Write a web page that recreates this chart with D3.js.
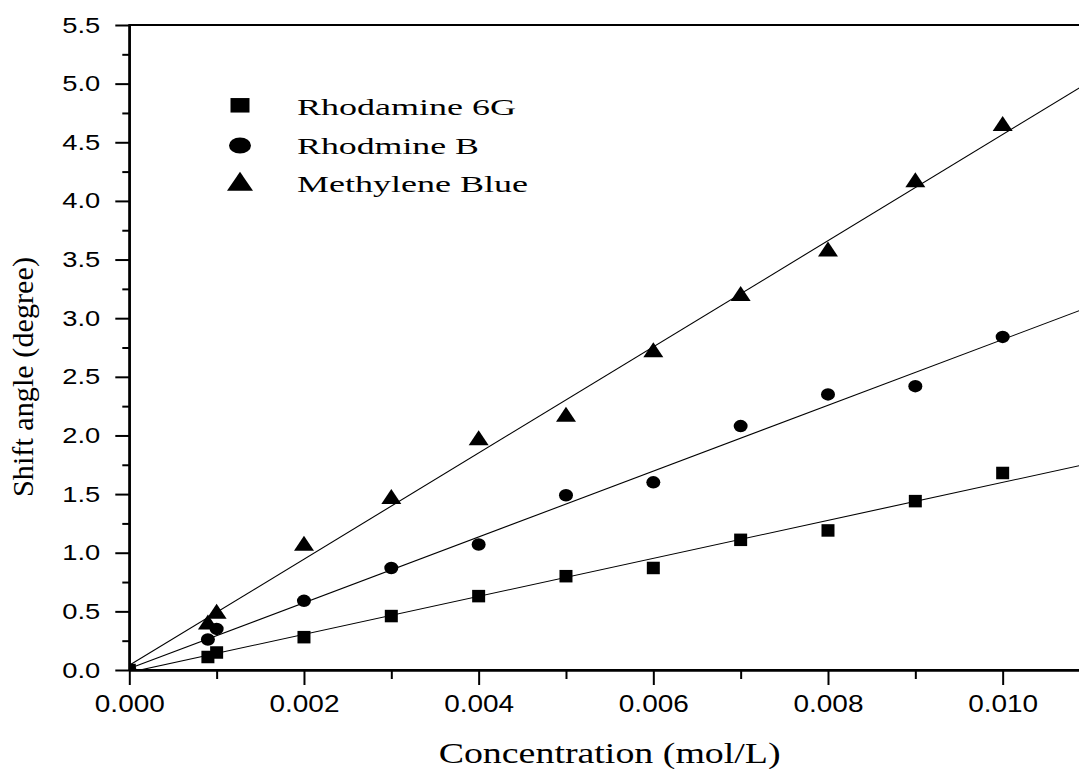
<!DOCTYPE html>
<html>
<head>
<meta charset="utf-8">
<script src="https://cdn.jsdelivr.net/npm/d3@7"></script>
<style>
  body { margin: 0; background: #fff; }
  svg { display: block; }
  .axis text { font-family: "Liberation Sans", Arial, sans-serif; fill: #000; }
  .title { font-family: "Liberation Serif", "Times New Roman", serif; fill: #000; }
</style>
</head>
<body>
<svg id="chart" width="1079" height="769"></svg>
<script>
// concentration (mol/L)
var concentration = [0, 0.0009, 0.001, 0.002, 0.003, 0.004, 0.005, 0.006, 0.007, 0.008, 0.009, 0.010]

// shift angle (degree) for each dye
var rhodamine6G = [0, 0.11, 0.15, 0.28, 0.46, 0.63, 0.80, 0.87, 1.11, 1.19, 1.44, 1.68]
var rhodmineB = [0, 0.26, 0.35, 0.59, 0.87, 1.07, 1.49, 1.60, 2.08, 2.35, 2.42, 2.84]
var methyleneBlue = [0, 0.41, 0.50, 1.08, 1.48, 1.98, 2.18, 2.73, 3.21, 3.59, 4.18, 4.66]

var seriesNames = ["Rhodamine 6G", "Rhodmine B", "Methylene Blue"]

// linear fits
var fitSlopes = [162, 280.6, 452.6]
var fitIntercepts = [-0.02, 0.012, 0.04]

var xTicks = [0, 0.002, 0.004, 0.006, 0.008, 0.010]
var xMinorTicks = [0.001, 0.003, 0.005, 0.007, 0.009, 0.011]
var yTicks = [0, 0.5, 1.0, 1.5, 2.0, 2.5, 3.0, 3.5, 4.0, 4.5, 5.0, 5.5]
var yMinorTicks = [0.25, 0.75, 1.25, 1.75, 2.25, 2.75, 3.25, 3.75, 4.25, 4.75, 5.25]

// plot box (right side runs past the window, like the original)
var plotLeft = 129.3, plotRight = 1090, plotTop = 25, plotBottom = 670

var svg = d3.select("#chart")

var x = d3.scaleLinear().domain([0, 0.011]).range([plotLeft, plotRight])
var y = d3.scaleLinear().domain([0, 5.5]).range([plotBottom, plotTop])

// shapes, w/h in px, centered on 0,0
function shape(kind, w, h) {
  if (kind == "square") {
    return "M" + (-w / 2) + "," + (-h / 2) + "h" + w + "v" + h + "h" + (-w) + "Z"
  }
  if (kind == "circle") {
    var rx = w / 2, ry = h / 2
    return "M" + (-rx) + ",0A" + rx + "," + ry + " 0 1 0 " + rx + ",0A" + rx + "," + ry + " 0 1 0 " + (-rx) + ",0Z"
  }
  return "M0," + (-h / 2) + "L" + (w / 2) + "," + (h / 2) + "L" + (-w / 2) + "," + (h / 2) + "Z"
}

var series = [
  { name: seriesNames[0], values: rhodamine6G, kind: "square", w: 13, h: 12.5, lw: 19, lh: 14.5 },
  { name: seriesNames[1], values: rhodmineB, kind: "circle", w: 14, h: 12.5, lw: 22, lh: 16 },
  { name: seriesNames[2], values: methyleneBlue, kind: "triangle", w: 20, h: 15, lw: 26, lh: 19 }
]
series.forEach(function(s, i) {
  s.slope = fitSlopes[i]
  s.intercept = fitIntercepts[i]
})

svg.append("clipPath")
  .attr("id", "plot-clip")
  .append("rect")
  .attr("x", plotLeft)
  .attr("y", plotTop)
  .attr("width", plotRight - plotLeft)
  .attr("height", plotBottom - plotTop)

var plot = svg.append("g").attr("clip-path", "url(#plot-clip)")

// fit lines
plot.selectAll(".fit")
  .data(series)
  .enter()
  .append("line")
  .attr("class", "fit")
  .attr("x1", x(0))
  .attr("y1", function(d) { return y(d.intercept) })
  .attr("x2", x(0.011))
  .attr("y2", function(d) { return y(d.intercept + d.slope * 0.011) })
  .attr("stroke", "#000")
  .attr("stroke-width", 1.1)

// markers, squares on top
var drawOrder = [series[2], series[1], series[0]]
drawOrder.forEach(function(s) {
  plot.selectAll(".pt-" + s.kind)
    .data(concentration)
    .enter()
    .append("path")
    .attr("class", "pt-" + s.kind)
    .attr("d", shape(s.kind, s.w, s.h))
    .attr("transform", function(c, i) {
      return "translate(" + x(c) + "," + y(s.values[i]) + ")"
    })
    .attr("fill", "#000")
})

// frame
svg.append("rect")
  .attr("x", plotLeft)
  .attr("y", plotTop)
  .attr("width", plotRight - plotLeft)
  .attr("height", plotBottom - plotTop)
  .attr("fill", "none")
  .attr("stroke", "#000")
  .attr("stroke-width", 2)

// axes
var yAxis = d3.axisLeft(y)
  .tickValues(yTicks)
  .tickFormat(d3.format(".1f"))
  .tickSize(14)
  .tickSizeOuter(0)
  .tickPadding(15)

var yg = svg.append("g")
  .attr("class", "axis y-axis")
  .attr("transform", "translate(" + plotLeft + ",0)")
  .call(yAxis)
yg.selectAll("text")
  .style("font-size", "22px")
  .attr("textLength", 38)
  .attr("lengthAdjust", "spacingAndGlyphs")

svg.append("g")
  .attr("class", "axis y-minor")
  .attr("transform", "translate(" + plotLeft + ",0)")
  .call(d3.axisLeft(y).tickValues(yMinorTicks).tickSize(7).tickSizeOuter(0).tickFormat(""))

var xAxis = d3.axisBottom(x)
  .tickValues(xTicks)
  .tickFormat(d3.format(".3f"))
  .tickSize(15)
  .tickSizeOuter(0)
  .tickPadding(10)

var xg = svg.append("g")
  .attr("class", "axis x-axis")
  .attr("transform", "translate(0," + plotBottom + ")")
  .call(xAxis)
xg.selectAll("text")
  .style("font-size", "24px")
  .attr("textLength", 70)
  .attr("lengthAdjust", "spacingAndGlyphs")

svg.append("g")
  .attr("class", "axis x-minor")
  .attr("transform", "translate(0," + plotBottom + ")")
  .call(d3.axisBottom(x).tickValues(xMinorTicks).tickSize(9).tickSizeOuter(0).tickFormat(""))

svg.selectAll(".axis path.domain, .axis line")
  .attr("stroke", "#000")
  .attr("stroke-width", 2)

// axis titles
svg.append("text")
  .attr("class", "title")
  .attr("x", (plotLeft + plotRight) / 2)
  .attr("y", 763)
  .attr("text-anchor", "middle")
  .style("font-size", "29px")
  .attr("textLength", 342)
  .attr("lengthAdjust", "spacingAndGlyphs")
  .text("Concentration (mol/L)")

svg.append("text")
  .attr("class", "title")
  .attr("transform", "translate(33,377) rotate(-90)")
  .attr("text-anchor", "middle")
  .style("font-size", "29px")
  .attr("textLength", 240)
  .attr("lengthAdjust", "spacingAndGlyphs")
  .text("Shift angle (degree)")

// legend
var legendY = [105.3, 145.5, 181.2]
var legendBase = [115, 154.3, 191.7]
var legendLen = [219, 182, 231]
var legend = svg.append("g").attr("class", "legend")
series.forEach(function(s, i) {
  legend.append("path")
    .attr("d", shape(s.kind, s.lw, s.lh))
    .attr("transform", "translate(240," + legendY[i] + ")")
    .attr("fill", "#000")
  legend.append("text")
    .attr("class", "title")
    .attr("x", 297)
    .attr("y", legendBase[i])
    .style("font-size", "24px")
    .attr("textLength", legendLen[i])
    .attr("lengthAdjust", "spacingAndGlyphs")
    .text(s.name)
})
</script>
</body>
</html>
